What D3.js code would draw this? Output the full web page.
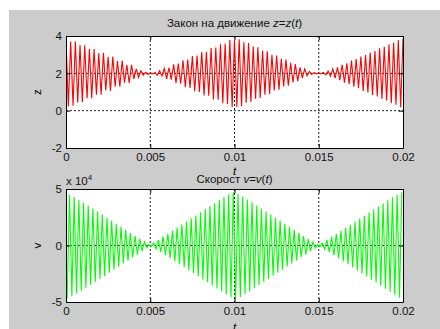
<!DOCTYPE html>
<html>
<head>
<meta charset="utf-8">
<script src="https://cdn.jsdelivr.net/npm/d3@7"></script>
<style>
	body { margin: 0; background: #fff; }
	svg { display: block; font-family: "Liberation Sans", Arial, sans-serif; }
	.axis text { font-size: 11.5px; fill: #111; }
	.axis path, .axis line { stroke: #000; }
</style>
</head>
<body>
<svg width="440" height="329"></svg>
<script>
// time axis
const tSpan = [0, 0.02];
const tTicks = [0, 0.005, 0.01, 0.015, 0.02];

// z = z(t): successive extremes, one per half period
const zTicks = [-2, 0, 2, 4];
const zPeaks = [
	3.85, 0.22, 3.70, 0.26, 3.70, 0.44, 3.52, 0.46, 3.50, 0.66,
	3.30, 0.66, 3.30, 0.86, 3.08, 0.86, 3.10, 1.08, 2.88, 1.06,
	2.90, 1.28, 2.66, 1.28, 2.68, 1.50, 2.45, 1.48, 2.46, 1.70,
	2.24, 1.78, 2.14, 1.90, 2.06, 1.95, 2.01,
	1.97, 2.04, 1.90, 2.14, 1.86, 2.26, 1.70, 2.30, 1.66, 2.48,
	1.48, 2.52, 1.44, 2.70, 1.26, 2.74, 1.22, 2.92, 1.04, 2.96,
	1.00, 3.14, 0.82, 3.16, 0.80, 3.36, 0.60, 3.38, 0.58, 3.56,
	0.40, 3.60, 0.36, 3.78, 0.18, 3.80,
	0.20, 3.82, 0.24, 3.66, 0.42, 3.62, 0.46, 3.44, 0.64, 3.40,
	0.68, 3.22, 0.86, 3.18, 0.90, 3.00, 1.08, 2.96, 1.12, 2.78,
	1.30, 2.74, 1.34, 2.56, 1.52, 2.50, 1.58, 2.32, 1.74, 2.24,
	1.86, 2.10, 1.94, 2.04, 1.97, 2.02,
	1.97, 2.05, 1.92, 2.12, 1.84, 2.24, 1.74, 2.32, 1.64, 2.46,
	1.50, 2.54, 1.42, 2.68, 1.28, 2.76, 1.20, 2.90, 1.06, 2.98,
	0.98, 3.12, 0.84, 3.20, 0.76, 3.34, 0.62, 3.42, 0.54, 3.56,
	0.40, 3.64, 0.32, 3.78, 0.18, 3.86
];

// v = v(t) in units of 10^4, extremes shifted by a quarter period
const vTicks = [-5, 0, 5];
const vPeaks = [
	-4.70, 4.50, -4.48, 4.28, -4.25, 4.02, -4.00, 3.78, -3.74, 3.52,
	-3.48, 3.26, -3.22, 3.00, -2.96, 2.74, -2.70, 2.46, -2.42, 2.20,
	-2.14, 1.92, -1.88, 1.66, -1.60, 1.38, -1.34, 1.10, -1.06, 0.84,
	-0.78, 0.58, -0.50, 0.32, -0.20, 0.08,
	-0.08, 0.22, -0.30, 0.50, -0.56, 0.78, -0.84, 1.04, -1.10, 1.32,
	-1.38, 1.58, -1.64, 1.86, -1.92, 2.12, -2.18, 2.40, -2.46, 2.66,
	-2.72, 2.94, -3.00, 3.20, -3.26, 3.48, -3.54, 3.74, -3.80, 4.02,
	-4.08, 4.28, -4.34, 4.54, -4.58, 4.72,
	-4.70, 4.58, -4.56, 4.34, -4.30, 4.08, -4.04, 3.82, -3.76, 3.54,
	-3.50, 3.28, -3.22, 3.00, -2.96, 2.74, -2.68, 2.46, -2.42, 2.20,
	-2.14, 1.92, -1.86, 1.66, -1.60, 1.38, -1.32, 1.12, -1.04, 0.84,
	-0.78, 0.58, -0.50, 0.30, -0.22, 0.08,
	-0.08, 0.20, -0.32, 0.48, -0.58, 0.76, -0.86, 1.02, -1.12, 1.30,
	-1.40, 1.56, -1.66, 1.84, -1.94, 2.10, -2.20, 2.38, -2.48, 2.64,
	-2.74, 2.92, -3.02, 3.18, -3.28, 3.46, -3.56, 3.72, -3.82, 4.00,
	-4.10, 4.26, -4.36, 4.52, -4.60, 4.70
];

const halfStep = (tSpan[1] - tSpan[0]) / (zPeaks.length - 1);
const zData = zPeaks.map((z, i) => [tSpan[0] + i * halfStep, z]);
const vData = vPeaks.map((v, i) => [tSpan[0] + (i + 0.5) * halfStep, v]);

const svg = d3.select("svg");
const left = 66, right = 403;

svg.append("rect")
	.attr("x", 9).attr("y", 10)
	.attr("width", 431).attr("height", 319)
	.attr("fill", "#cccccc");

function draw_panel(id, top, bottom, yDomain, yTicks, data, color) {
	const x = d3.scaleLinear().domain(tSpan).range([left, right]);
	const y = d3.scaleLinear().domain(yDomain).range([bottom, top]);
	const g = svg.append("g");

	g.append("rect")
		.attr("x", left).attr("y", top)
		.attr("width", right - left).attr("height", bottom - top)
		.attr("fill", "#fff");

	g.append("clipPath").attr("id", id)
		.append("rect")
		.attr("x", left).attr("y", top)
		.attr("width", right - left).attr("height", bottom - top);

	// dotted grid
	g.selectAll(".gx").data(tTicks.slice(1, -1)).enter().append("line")
		.attr("x1", d => x(d)).attr("x2", d => x(d))
		.attr("y1", top).attr("y2", bottom)
		.attr("stroke", "#222").attr("stroke-dasharray", "2,2");
	g.selectAll(".gy").data(yTicks.slice(1, -1)).enter().append("line")
		.attr("x1", left).attr("x2", right)
		.attr("y1", d => y(d)).attr("y2", d => y(d))
		.attr("stroke", "#222").attr("stroke-dasharray", "2,2");

	const line = d3.line().x(d => x(d[0])).y(d => y(d[1]));
	g.append("path")
		.datum(data)
		.attr("clip-path", "url(#" + id + ")")
		.attr("d", line)
		.attr("fill", "none")
		.attr("stroke", color)
		.attr("stroke-width", 1.1);

	g.append("g").attr("class", "axis")
		.attr("transform", "translate(0," + bottom + ")")
		.call(d3.axisBottom(x).tickValues(tTicks).tickFormat(d => String(d))
			.tickSize(-4).tickSizeOuter(0).tickPadding(5));
	g.append("g").attr("class", "axis")
		.attr("transform", "translate(0," + top + ")")
		.call(d3.axisTop(x).tickValues(tTicks).tickFormat("")
			.tickSize(-4).tickSizeOuter(0));
	g.append("g").attr("class", "axis")
		.attr("transform", "translate(" + left + ",0)")
		.call(d3.axisLeft(y).tickValues(yTicks).tickFormat(d => String(d))
			.tickSize(-4).tickSizeOuter(0).tickPadding(4));
	g.append("g").attr("class", "axis")
		.attr("transform", "translate(" + right + ",0)")
		.call(d3.axisRight(y).tickValues(yTicks).tickFormat("")
			.tickSize(-4).tickSizeOuter(0));

	g.selectAll(".axis text").attr("font-family", null);
	return g;
}

draw_panel("clipZ", 36, 148, [-2, 4], zTicks, zData, "#ff0000");
draw_panel("clipV", 189, 302, [-5, 5], vTicks, vData, "#00ff00");

const cx = (left + right) / 2;

function title(yPos, word, sym) {
	const t = svg.append("text")
		.attr("x", cx).attr("y", yPos)
		.attr("text-anchor", "middle")
		.attr("font-size", "11.5px").attr("fill", "#111");
	t.append("tspan").text(word + " ");
	t.append("tspan").attr("font-style", "italic").text(sym);
	t.append("tspan").text("=");
	t.append("tspan").attr("font-style", "italic").text(sym);
	t.append("tspan").text("(");
	t.append("tspan").attr("font-style", "italic").text("t");
	t.append("tspan").text(")");
}
title(27, "Закон на движение", "z");
title(183, "Скорост", "v");

// axis labels
svg.append("text").attr("transform", "translate(41,92) rotate(-90)")
	.attr("text-anchor", "middle").attr("font-size", "11.5px").text("z");
svg.append("text").attr("transform", "translate(41,245.5) rotate(-90)")
	.attr("text-anchor", "middle").attr("font-size", "11.5px").text("v");
svg.append("text").attr("x", cx).attr("y", 175)
	.attr("text-anchor", "middle").attr("font-style", "italic")
	.attr("font-size", "11.5px").text("t");
svg.append("text").attr("x", cx).attr("y", 331)
	.attr("text-anchor", "middle").attr("font-style", "italic")
	.attr("font-size", "11.5px").text("t");

// exponent of the lower y axis
const ex = svg.append("text").attr("x", 66).attr("y", 185)
	.attr("font-size", "11.5px").attr("fill", "#111");
ex.append("tspan").text("x 10");
ex.append("tspan").attr("dy", -5).attr("font-size", "8px").text("4");
</script>
</body>
</html>
